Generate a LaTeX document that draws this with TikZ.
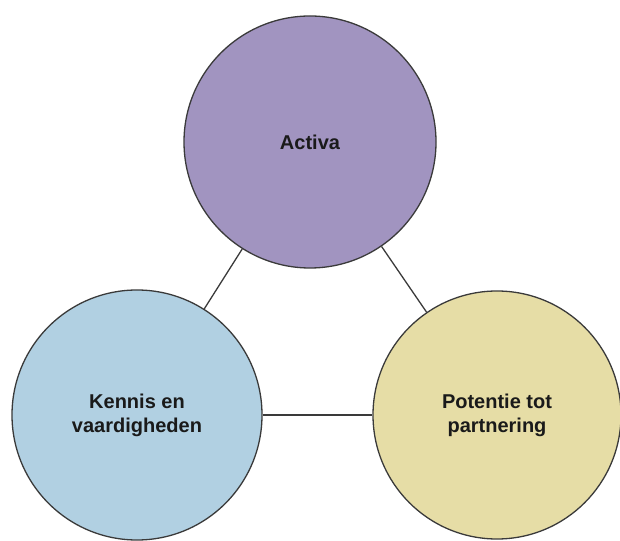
\documentclass[tikz,border=0pt]{standalone}
\usepackage{fontspec}
\setmainfont{Liberation Sans}
\definecolor{activafill}{HTML}{A194C0}
\definecolor{kennisfill}{HTML}{B1D0E2}
\definecolor{potentiefill}{HTML}{E6DDA6}
\definecolor{edgegray}{HTML}{3A3A3A}
\definecolor{labelink}{HTML}{1A1A1A}
\begin{document}
\begin{tikzpicture}[x=1pt,y=1pt,
  bubble/.style={circle, draw=edgegray, line width=1.3pt, minimum size=252pt,
    inner sep=0pt, align=center, text=labelink,
    font=\fontsize{20}{24}\selectfont\bfseries},
  link/.style={draw=edgegray, line width=1.3pt}]
  \useasboundingbox (0,0) rectangle (620,540);
  \node[bubble, fill=activafill] (activa) at (310,398) {Activa};
  \node[bubble, fill=kennisfill, minimum size=250pt] (kennis) at (137,125) {Kennis en\\vaardigheden};
  \node[bubble, fill=potentiefill, minimum size=248pt] (potentie) at (497,125) {Potentie tot\\partnering};
  \draw[link] (activa) -- (kennis);
  \draw[link] (activa) -- (potentie);
  \draw[link] (kennis) -- (potentie);
\end{tikzpicture}
\end{document}
